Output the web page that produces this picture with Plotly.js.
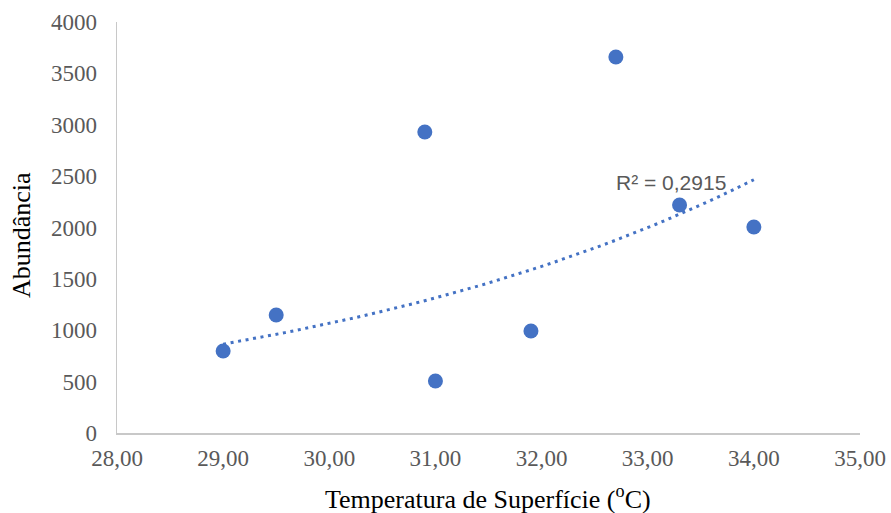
<!DOCTYPE html>
<html>
<head>
<meta charset="utf-8">
<script src="https://cdn.plot.ly/plotly-3.0.1.min.js"></script>
<style>html,body{margin:0;padding:0;background:#fff;}#chart{width:891px;height:513px;}</style>
</head>
<body>
<div id="chart"></div>
<script>
// Data
const temperature = [29.0, 29.5, 30.9, 31.0, 31.9, 32.7, 33.3, 34.0];
const abundance   = [798, 1148, 2930, 506, 993, 3660, 2219, 2005];
const xTickVals   = [28, 29, 30, 31, 32, 33, 34, 35];
const xTickText   = ["28,00","29,00","30,00","31,00","32,00","33,00","34,00","35,00"];
const yTickVals   = [0, 500, 1000, 1500, 2000, 2500, 3000, 3500, 4000];
const rSquaredLabel = "R² = 0,2915";
const xTitle = "Temperatura de Superfície (<sup>o</sup>C)";
const yTitle = "Abundância";

// Exponential trendline (least squares on ln y), like the spreadsheet's trendline
const n = temperature.length;
const ly = abundance.map(v => Math.log(v));
const mx = temperature.reduce((a,b)=>a+b,0)/n;
const my = ly.reduce((a,b)=>a+b,0)/n;
let sxy = 0, sxx = 0;
for (let i=0;i<n;i++){ sxy += (temperature[i]-mx)*(ly[i]-my); sxx += (temperature[i]-mx)**2; }
const b = sxy/sxx, a = Math.exp(my - b*mx);
const xmin = Math.min(...temperature), xmax = Math.max(...temperature);
const trendX = [], trendY = [];
for (let k=0;k<=60;k++){ const x = xmin + (xmax-xmin)*k/60; trendX.push(x); trendY.push(a*Math.exp(b*x)); }

const blue = '#4472C4';
const traces = [
  {x: trendX, y: trendY, mode: 'lines', type: 'scatter',
   line: {color: blue, width: 3, dash: '3px,4.6px'}, hoverinfo: 'skip'},
  {x: temperature, y: abundance, mode: 'markers', type: 'scatter',
   marker: {color: blue, size: 15, line: {width: 0}}}
];

const serif = '"Liberation Serif", "Times New Roman", serif';
const tickFont = {family: serif, size: 23, color: '#595959'};
const titleFont = {family: serif, size: 26, color: '#000000'};

const L = 117, R = 31, T = 22, B = 80, W = 891, H = 513;
const pw = W - L - R, ph = H - T - B;
const px = v => (v - L) / pw;          // pixel x -> paper
const py = v => (H - B - v) / ph;      // pixel y -> paper

const layout = {
  width: W, height: H,
  margin: {l: L, r: R, t: T, b: B},
  paper_bgcolor: '#fff', plot_bgcolor: '#fff',
  showlegend: false,
  xaxis: {
    range: [28, 35], tickvals: xTickVals, ticktext: xTickText,
    showgrid: false, zeroline: false, showline: true, linecolor: '#C8C8C8', linewidth: 1.5,
    ticks: '', tickfont: tickFont, ticklabelstandoff: 4, automargin: false
  },
  yaxis: {
    range: [0, 4000], tickvals: yTickVals,
    showgrid: false, zeroline: false, showline: true, linecolor: '#C8C8C8', linewidth: 1.5,
    ticks: '', tickfont: tickFont, ticklabelstandoff: 14, automargin: false
  },
  annotations: [
    {x: px(671), y: py(182), xref: 'paper', yref: 'paper', xanchor: 'center', yanchor: 'middle',
     text: rSquaredLabel, showarrow: false,
     font: {family: '"Liberation Sans", Arial, sans-serif', size: 21, color: '#595959'}},
    {x: px(488), y: py(497), xref: 'paper', yref: 'paper', xanchor: 'center', yanchor: 'middle',
     text: xTitle, showarrow: false, font: titleFont},
    {x: px(22), y: py(235), xref: 'paper', yref: 'paper', xanchor: 'center', yanchor: 'middle',
     text: yTitle, textangle: -90, showarrow: false, font: titleFont}
  ]
};

Plotly.newPlot('chart', traces, layout, {staticPlot: true, displayModeBar: false});
</script>
</body>
</html>
